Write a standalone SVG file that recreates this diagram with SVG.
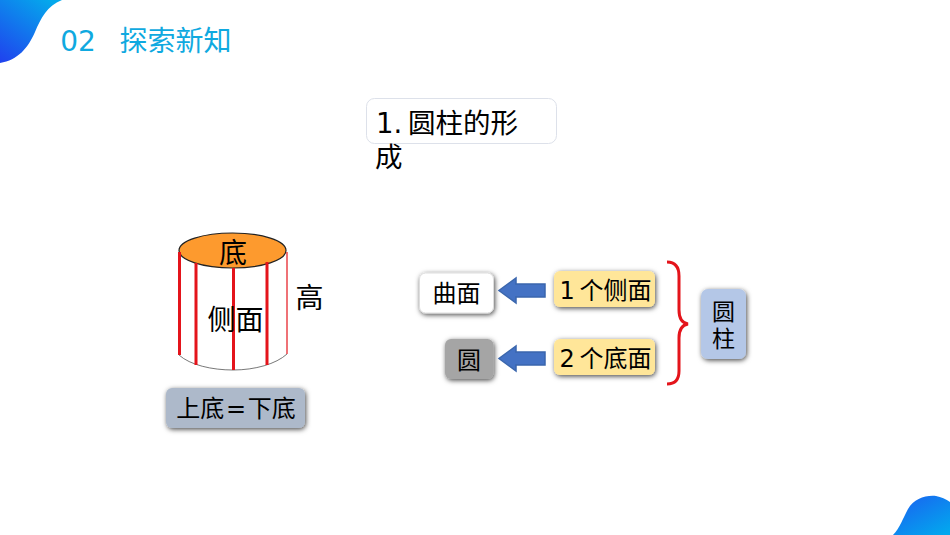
<svg xmlns="http://www.w3.org/2000/svg" width="950" height="535" viewBox="0 0 950 535">
<defs>
<linearGradient id="g1" x1="0.8" y1="0" x2="0.1" y2="1"><stop offset="0" stop-color="#04a9ec"/><stop offset="1" stop-color="#1f45ee"/></linearGradient>
<linearGradient id="g2" x1="0.1" y1="0" x2="0.9" y2="1"><stop offset="0" stop-color="#1a62f0"/><stop offset="1" stop-color="#02a8ee"/></linearGradient>
<filter id="sh" x="-30%" y="-30%" width="160%" height="160%"><feDropShadow dx="1" dy="1.5" stdDeviation="2.6" flood-color="#000" flood-opacity="0.7"/></filter>
</defs>
<style>
text{font-family:"DejaVu Sans","Noto Sans CJK SC",sans-serif;fill:#000;text-anchor:middle}
.t{font-size:24px}
.n{font-size:24px;word-spacing:-3px}
.y{fill:#ffe699;filter:url(#sh)}
.a{fill:#4472c4;stroke:#3a66ad;stroke-width:1.500}
.r{stroke:#e4141b;stroke-width:3;fill:none}
</style>
<g id="decor">
<path d="M0 0H62C47 6 41 18 35 32C28 48 18 60 0 63Z" fill="url(#g1)"/>
<path d="M893 535C900 528 903 518 908 509C914 499 925 495 936 496C941 497 946 499 950 502V535Z" fill="url(#g2)"/>
</g>
<g id="header">
<text x="78" y="51" style="font-size:28px;fill:#0fa9e0">02</text>
<text x="175.500" y="51" style="font-size:28px;fill:#0fa9e0">探索新知</text>
</g>
<g id="title">
<rect x="366.500" y="98.500" width="190" height="45" rx="8" fill="#fff" stroke="#dde1ea"/>
<text x="376" y="133" style="font-size:27.500px;text-anchor:start;word-spacing:-3px">1. 圆柱的形</text>
<text x="375" y="167" style="font-size:27.500px;text-anchor:start">成</text>
</g>
<g id="cylinder">
<path d="M179 251V355C190 365 212 370 233 370C255 370 276 364 287 354V251" fill="#fff"/>
<path d="M179 355C190 365 212 370 233 370C255 370 276 364 287 354" fill="none" stroke="#555" stroke-width="0.800"/>
<ellipse cx="232.500" cy="250.500" rx="53.500" ry="17.500" fill="#fd9a2e" stroke="#222" stroke-width="1.200"/>
<path class="r" d="M179.500 252V355M196 263V365M233.500 268V370M267 262V365"/>
<path d="M287 252V354" stroke="#e4141b" stroke-width="1.200"/>
<text x="233" y="263" style="font-size:28px">底</text>
<text x="235.500" y="330" style="font-size:28px">侧面</text>
<text x="309.500" y="308" style="font-size:28px">高</text>
</g>
<g id="equal">
<rect x="166" y="388" width="139" height="40" rx="6" fill="#adb9ca" filter="url(#sh)"/>
<text x="236" y="417" class="t" style="word-spacing:-6px">上底 = 下底</text>
</g>
<g id="curved">
<rect x="419.500" y="273" width="74" height="40" rx="6" fill="#fff" stroke="#ddd" filter="url(#sh)"/>
<text x="456.500" y="302" class="t">曲面</text>
</g>
<g id="circle">
<rect x="445" y="339" width="48.500" height="40" rx="6" fill="#a5a5a5" filter="url(#sh)"/>
<text x="469" y="369" class="t">圆</text>
</g>
<g id="side">
<rect class="y" x="554" y="271" width="101" height="36" rx="6"/>
<text x="605.500" y="299" class="n">1 个侧面</text>
</g>
<g id="base">
<rect class="y" x="554" y="339" width="101" height="36" rx="6"/>
<text x="605.500" y="367" class="n">2 个底面</text>
</g>
<g id="cyl">
<rect x="701" y="289" width="45" height="70" rx="7" fill="#b4c7e7" filter="url(#sh)"/>
<text x="723.500" y="320" style="font-size:23px">圆</text>
<text x="723.500" y="347" style="font-size:23px">柱</text>
</g>
<g id="connectors">
<path class="a" d="M545 284H516V278L499 290.500L516 303V297H545Z"/>
<path class="a" d="M545 352H516V346L499 358.500L516 371V365H545Z"/>
<path d="M667 262C676 262 679 268 679 276V310C679 318 682 323 688 324C682 325 679 330 679 338V371C679 379 676 384 667 384" fill="none" stroke="#e4141b" stroke-width="3"/>
</g>
</svg>
